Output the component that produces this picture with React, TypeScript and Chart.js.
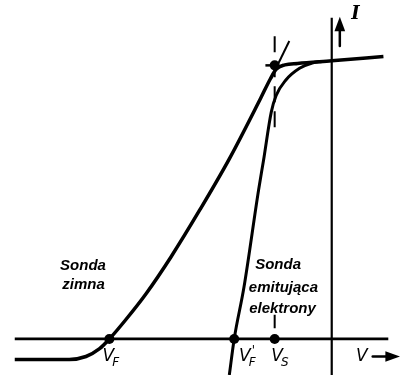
import { useEffect, useRef } from "react";
import { Chart, registerables } from "chart.js";

Chart.register(...registerables);

// Probe characteristics: voltage V and current I in arbitrary units
const coldV = [-32.5, -26.9, -25.2, -23.8, -22.8, -21.1, -19.0, -16.5, -13.5, -10.5, -7.3, -6.3, -5.7, -4.8, -3.5, 0, 5.3];
const coldI = [-2.1, -2.1, -1.8, -1.0, 0, 2.0, 4.7, 8.4, 13.3, 18.5, 24.7, 26.7, 27.7, 28.15, 28.3, 28.57, 29.0];

const emitV = [-10.5, -10.0, -9.0, -7.5, -7.0, -6.2, -5.7, -4.7, -3.3, -2.0, -1.0];
const emitI = [-3.7, 0, 5.3, 15.3, 18.3, 23.3, 25.0, 26.6, 27.8, 28.35, 28.5];

// Characteristic voltages
const floatingCold = -22.8; // V_F
const floatingEmit = -10.0; // V_F'
const plasmaPotential = -5.85; // V_S
const kneeCurrent = 28.1;

// Tangent construction at the knee
const tangentV = [-6.2, -4.35];
const tangentI = [26.8, 30.6];
const kneeLineV = [-6.8, plasmaPotential];
// Dashed V_S marker: upper run and the short dash above the axis
const dashUpperI = [31.1, 21.1];
const dashLowerI = [2.5, 1.1];

// Axis extents
const vMin = -33.5;
const vMax = 7.0;
const iMin = -3.7;
const iMax = 34.3;
const vAxisFrom = -32.5;
const vAxisTo = 5.8;
const iAxisTo = 33.0;

const captions = [
  { text: "Sonda", v: -25.5, i: 7.5 },
  { text: "zimna", v: -25.45, i: 5.6 },
  { text: "Sonda", v: -5.5, i: 7.6 },
  { text: "emitująca", v: -4.95, i: 5.3 },
  { text: "elektrony", v: -5.05, i: 3.1 },
];

const symbols = [
  { main: "V", sub: "F", prime: false, v: -23.5, i: -1.8 },
  { main: "V", sub: "F", prime: true, v: -9.5, i: -1.8 },
  { main: "V", sub: "S", prime: false, v: -6.2, i: -1.8 },
  { main: "V", sub: "", prime: false, v: 2.5, i: -1.8 },
];

const pts = (xs: number[], ys: number[]) => xs.map((x, k) => ({ x, y: ys[k] }));

const overlay = {
  id: "overlay",
  afterDatasetsDraw(chart: any) {
    const { ctx } = chart;
    const sx = chart.scales.x;
    const sy = chart.scales.y;
    const X = (v: number) => sx.getPixelForValue(v);
    const Y = (i: number) => sy.getPixelForValue(i);
    ctx.save();
    ctx.fillStyle = "#000";
    ctx.strokeStyle = "#000";
    ctx.lineCap = "round";

    // current arrow next to the I axis
    ctx.lineWidth = 2.5;
    ctx.beginPath();
    ctx.moveTo(X(0.83), Y(30.1));
    ctx.lineTo(X(0.83), Y(31.8));
    ctx.stroke();
    ctx.beginPath();
    ctx.moveTo(X(0.83), Y(33.1));
    ctx.lineTo(X(0.83 - 0.55), Y(31.6));
    ctx.lineTo(X(0.83 + 0.55), Y(31.6));
    ctx.closePath();
    ctx.fill();

    // voltage arrow under the V axis
    ctx.beginPath();
    ctx.moveTo(X(4.2), Y(-1.8));
    ctx.lineTo(X(5.6), Y(-1.8));
    ctx.stroke();
    ctx.beginPath();
    ctx.moveTo(X(7.0), Y(-1.8));
    ctx.lineTo(X(5.5), Y(-1.8 + 0.55));
    ctx.lineTo(X(5.5), Y(-1.8 - 0.55));
    ctx.closePath();
    ctx.fill();

    // captions
    ctx.font = 'italic bold 15px "Liberation Sans"';
    ctx.textAlign = "center";
    ctx.textBaseline = "middle";
    for (const c of captions) ctx.fillText(c.text, X(c.v), Y(c.i));

    // voltage symbols
    ctx.textAlign = "left";
    for (const s of symbols) {
      const x0 = X(s.v);
      const y0 = Y(s.i);
      ctx.font = 'italic 17px "DejaVu Sans"';
      ctx.fillText(s.main, x0, y0);
      const w = ctx.measureText(s.main).width;
      if (s.sub) {
        ctx.font = 'italic 12px "DejaVu Sans"';
        ctx.fillText(s.sub, x0 + w - 2, y0 + 6);
      }
      if (s.prime) {
        ctx.font = 'italic 12px "DejaVu Sans"';
        ctx.fillText("'", x0 + w + 1, y0 - 6);
      }
    }

    // current symbol
    ctx.font = 'italic bold 18px "DejaVu Serif"';
    ctx.fillText("I", X(2.0), Y(33.3));
    ctx.restore();
  },
};

export default function App() {
  const ref = useRef<HTMLCanvasElement | null>(null);

  useEffect(() => {
    if (!ref.current) return;
    const black = "#000";
    const chart = new Chart(ref.current, {
      type: "scatter",
      data: {
        datasets: [
          {
            label: "axis V",
            data: pts([vAxisFrom, vAxisTo], [0, 0]),
            showLine: true,
            borderColor: black,
            borderWidth: 2.8,
            pointRadius: 0,
          },
          {
            label: "axis I",
            data: pts([0, 0], [iMin, iAxisTo]),
            showLine: true,
            borderColor: black,
            borderWidth: 2.2,
            pointRadius: 0,
          },
          {
            label: "Sonda zimna",
            data: pts(coldV, coldI),
            showLine: true,
            borderColor: black,
            borderWidth: 3.5,
            pointRadius: 0,
            cubicInterpolationMode: "monotone",
          },
          {
            label: "Sonda emitująca elektrony",
            data: pts(emitV, emitI),
            showLine: true,
            borderColor: black,
            borderWidth: 3,
            pointRadius: 0,
            cubicInterpolationMode: "monotone",
          },
          {
            label: "tangent",
            data: pts(tangentV, tangentI),
            showLine: true,
            borderColor: black,
            borderWidth: 2,
            pointRadius: 0,
          },
          {
            label: "knee",
            data: pts(kneeLineV, [kneeCurrent, kneeCurrent]),
            showLine: true,
            borderColor: black,
            borderWidth: 2.5,
            pointRadius: 0,
          },
          {
            label: "V_S marker",
            data: pts([plasmaPotential, plasmaPotential], dashUpperI),
            showLine: true,
            borderColor: black,
            borderWidth: 2,
            borderDash: [16, 9],
            pointRadius: 0,
          },
          {
            label: "V_S marker low",
            data: pts([plasmaPotential, plasmaPotential], dashLowerI),
            showLine: true,
            borderColor: black,
            borderWidth: 2,
            pointRadius: 0,
          },
          {
            label: "points",
            data: pts(
              [floatingCold, floatingEmit, plasmaPotential, plasmaPotential],
              [0, 0, 0, kneeCurrent]
            ),
            showLine: false,
            pointRadius: 5,
            pointBackgroundColor: black,
            pointBorderColor: black,
            pointBorderWidth: 0,
          },
        ],
      },
      options: {
        animation: false,
        responsive: false,
        layout: { padding: 0 },
        plugins: {
          legend: { display: false },
          tooltip: { enabled: false },
        },
        scales: {
          x: { type: "linear", min: vMin, max: vMax, display: false },
          y: { type: "linear", min: iMin, max: iMax, display: false },
        },
      },
      plugins: [overlay],
    });
    return () => chart.destroy();
  }, []);

  return (
    <div style={{ position: "fixed", left: 0, top: 0, width: 405, height: 380, background: "#fff" }}>
      <canvas ref={ref} width={405} height={380} />
    </div>
  );
}
